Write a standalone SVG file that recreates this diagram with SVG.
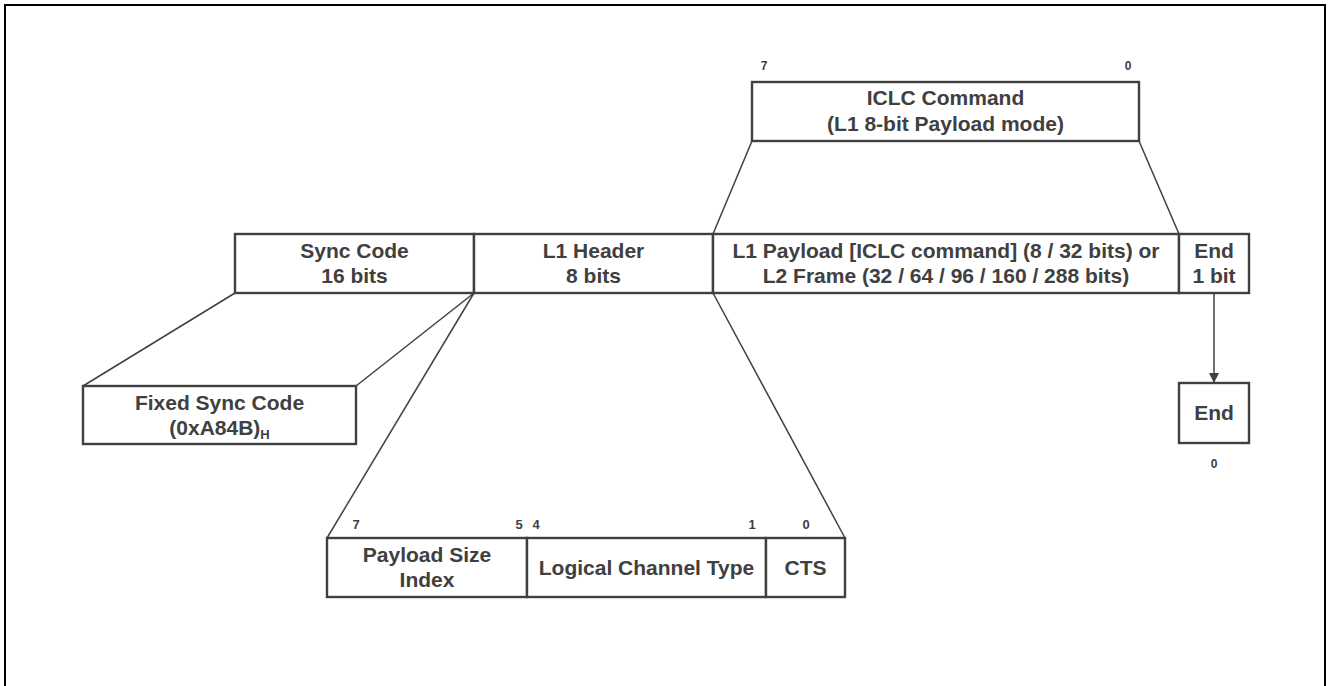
<svg xmlns="http://www.w3.org/2000/svg" width="1328" height="686" viewBox="0 0 1328 686">
<style>
.box{fill:#fff;stroke:#404040;stroke-width:2.4}
.ln{fill:none;stroke:#404040;stroke-width:1.5}
.t{font-family:"Liberation Sans",Arial,sans-serif;font-weight:bold;font-size:21px;fill:#404040;text-anchor:middle}
.b{font-family:"Liberation Sans",Arial,sans-serif;font-weight:bold;font-size:12px;fill:#404040;text-anchor:middle}
.bb{font-family:"Liberation Sans",Arial,sans-serif;font-weight:bold;font-size:13px;fill:#404040;text-anchor:middle}
</style>
<defs>
<marker id="ah" markerWidth="10" markerHeight="10" refX="9" refY="5" orient="auto" markerUnits="userSpaceOnUse">
<path d="M0,0 L10,5 L0,10 z" fill="#404040"/>
</marker>
</defs>
<rect x="0" y="0" width="1328" height="686" fill="#fff"/>
<path d="M5,690 L5,5 L1325,5 L1325,690" fill="none" stroke="#000" stroke-width="2"/>
<g id="connectors">
<line class="ln" x1="752" y1="141" x2="713" y2="234"/>
<line class="ln" x1="1139" y1="141" x2="1179" y2="234"/>
<line class="ln" x1="235" y1="293" x2="83" y2="386"/>
<line class="ln" x1="474" y1="293" x2="356" y2="386"/>
<line class="ln" x1="474" y1="293" x2="327" y2="538"/>
<line class="ln" x1="713" y1="293" x2="845" y2="538"/>
<line class="ln" x1="1214" y1="293" x2="1214" y2="382" marker-end="url(#ah)"/>
</g>
<g id="iclc">
<rect class="box" x="752" y="82" width="387" height="59"/>
<text class="t" x="945.5" y="105">ICLC Command</text>
<text class="t" x="945.5" y="131">(L1 8-bit Payload mode)</text>
<text class="b" x="764" y="70">7</text>
<text class="b" x="1128" y="70">0</text>
</g>
<g id="sync">
<rect class="box" x="235" y="234" width="239" height="59"/>
<text class="t" x="354.5" y="258">Sync Code</text>
<text class="t" x="354.5" y="283">16 bits</text>
</g>
<g id="header">
<rect class="box" x="474" y="234" width="239" height="59"/>
<text class="t" x="593.5" y="258">L1 Header</text>
<text class="t" x="593.5" y="283">8 bits</text>
</g>
<g id="payload">
<rect class="box" x="713" y="234" width="466" height="59"/>
<text class="t" x="946" y="258">L1 Payload [ICLC command] (8 / 32 bits) or</text>
<text class="t" x="946" y="283">L2 Frame (32 / 64 / 96 / 160 / 288 bits)</text>
</g>
<g id="end-bit">
<rect class="box" x="1179" y="234" width="70" height="59"/>
<text class="t" x="1214" y="258">End</text>
<text class="t" x="1214" y="283">1 bit</text>
</g>
<g id="fixed-sync">
<rect class="box" x="83" y="386" width="273" height="58"/>
<text class="t" x="219.5" y="410">Fixed Sync Code</text>
<text class="t" x="219.5" y="435">(0xA84B)<tspan font-size="13px" dy="4">H</tspan></text>
</g>
<g id="end">
<rect class="box" x="1179" y="383" width="70" height="60"/>
<text class="t" x="1214" y="420">End</text>
<text class="b" x="1214" y="468">0</text>
</g>
<g id="header-fields">
<rect class="box" x="327" y="538" width="200" height="59"/>
<rect class="box" x="527" y="538" width="239" height="59"/>
<rect class="box" x="766" y="538" width="79" height="59"/>
<text class="t" x="427" y="562">Payload Size</text>
<text class="t" x="427" y="587">Index</text>
<text class="t" x="646.5" y="575">Logical Channel Type</text>
<text class="t" x="805.5" y="575">CTS</text>
<text class="bb" x="356" y="529">7</text>
<text class="bb" x="519" y="529">5</text>
<text class="bb" x="536" y="529">4</text>
<text class="bb" x="752" y="529">1</text>
<text class="bb" x="806" y="529">0</text>
</g>
</svg>
